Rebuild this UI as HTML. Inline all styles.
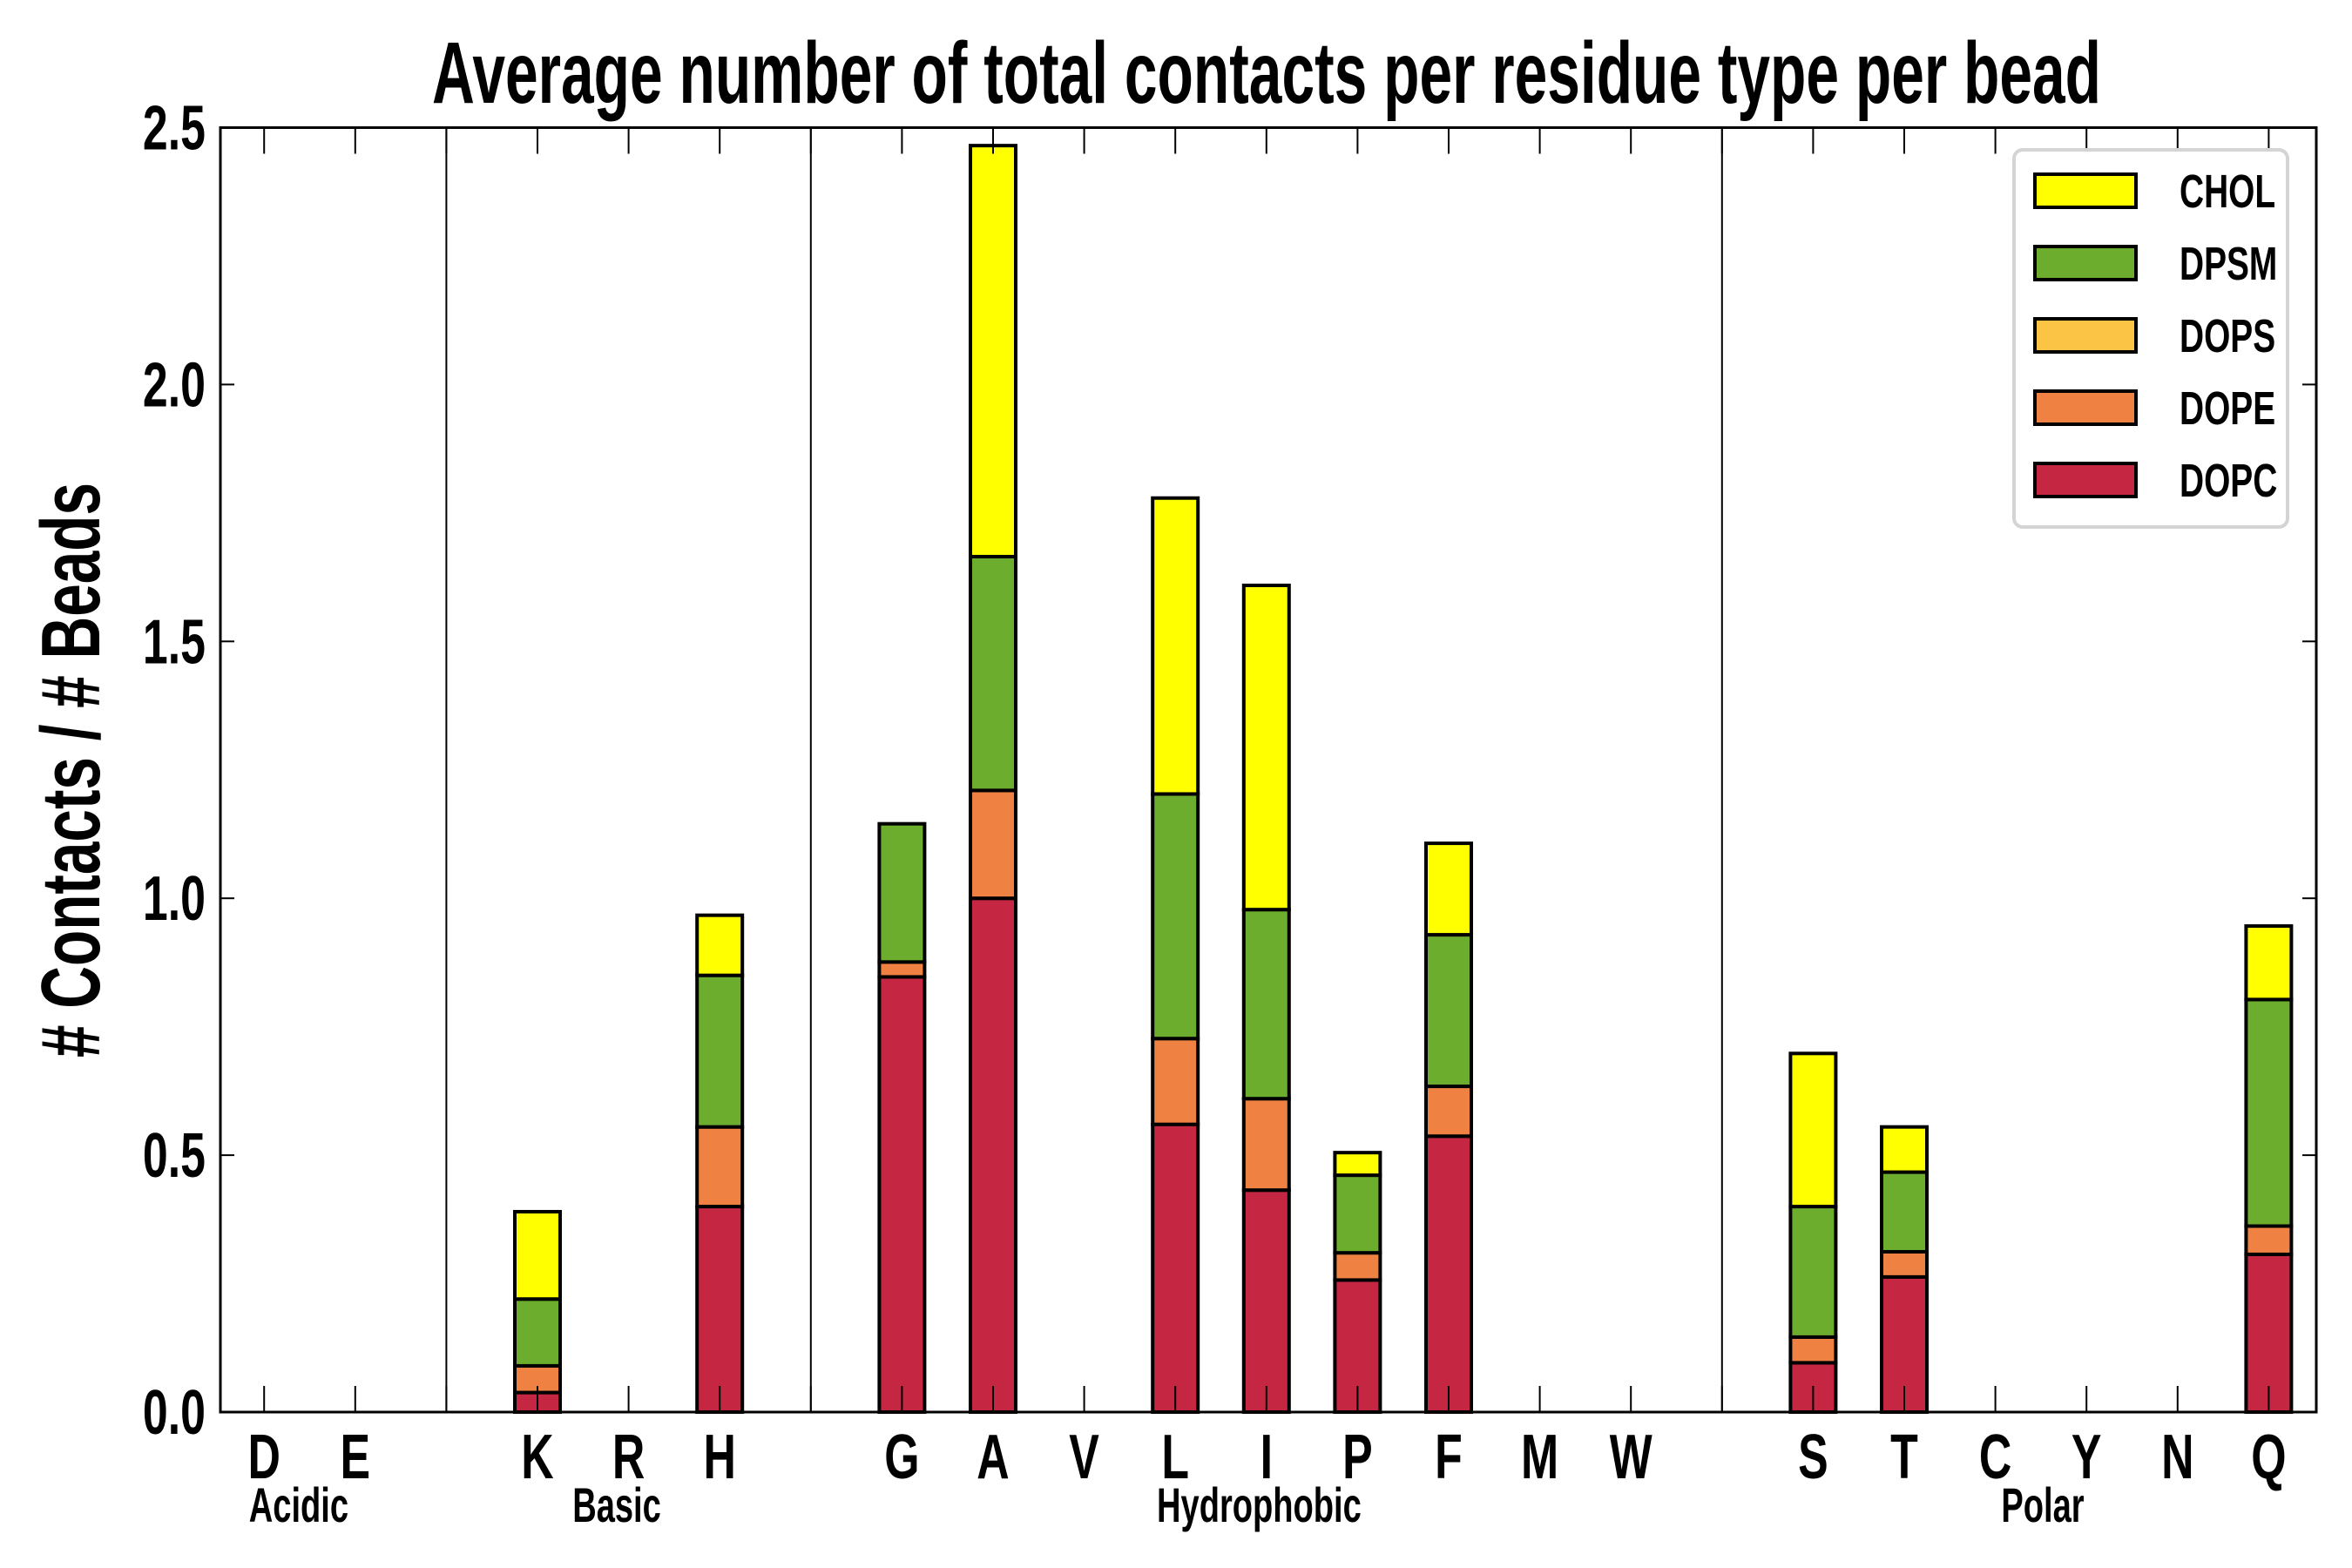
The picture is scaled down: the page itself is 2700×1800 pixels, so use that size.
<!DOCTYPE html>
<html><head><meta charset="utf-8"><style>
html,body{margin:0;padding:0;background:#fff;}
svg{display:block;font-family:"Liberation Sans",sans-serif;font-weight:bold;}
</style></head><body>
<svg id="chart" width="2700" height="1800" viewBox="0 0 2700 1800" xmlns="http://www.w3.org/2000/svg">
<rect width="2700" height="1800" fill="#fff"/>
<text x="1454" y="118" text-anchor="middle" font-size="100" textLength="1916" lengthAdjust="spacingAndGlyphs">Average number of total contacts per residue type per bead</text>
<text transform="translate(114,884) rotate(-90)" text-anchor="middle" font-size="96" textLength="660" lengthAdjust="spacingAndGlyphs"># Contacts / # Beads</text>
<g id="plot"></g>
</svg>
<script>
const categories = ["D","E","","K","R","H","","G","A","V","L","I","P","F","M","W","","S","T","C","Y","N","Q"];
const dopc = [0,0,0,0.038,0,0.40,0,0.847,1.0,0,0.56,0.432,0.257,0.537,0,0,0,0.096,0.263,0,0,0,0.307];
const dope = [0,0,0,0.052,0,0.155,0,0.029,0.21,0,0.167,0.178,0.053,0.097,0,0,0,0.05,0.049,0,0,0,0.055];
const dops = [0,0,0,0,0,0,0,0,0,0,0,0,0,0,0,0,0,0,0,0,0,0,0];
const dpsm = [0,0,0,0.13,0,0.295,0,0.269,0.455,0,0.476,0.368,0.151,0.295,0,0,0,0.254,0.155,0,0,0,0.441];
const chol = [0,0,0,0.17,0,0.117,0,0,0.80,0,0.576,0.631,0.044,0.178,0,0,0,0.298,0.088,0,0,0,0.143];
const seriesNames = ["DOPC","DOPE","DOPS","DPSM","CHOL"];
const seriesColors = ["#c52742","#ef8243","#fbc444","#6cad2d","#ffff00"];
const yTicks = [0,0.5,1.0,1.5,2.0,2.5];
const yTickLabels = ["0.0","0.5","1.0","1.5","2.0","2.5"];
const groupNames = ["Acidic","Basic","Hydrophobic","Polar"];
const groupLabelIndex = [0.38,3.87,10.92,19.52];
const separatorIndex = [2,6,16];

const NS="http://www.w3.org/2000/svg";
const L=253,R=2659,T=146.5,B=1621,YMAX=2.5;
const x0=303.2,step=104.6,bw=52;
const xs=i=>x0+step*i;
const ys=v=>B-(v/YMAX)*(B-T);
const g=document.getElementById('plot');
function mk(tag,attrs,parent){const e=document.createElementNS(NS,tag);for(const k in attrs)e.setAttribute(k,attrs[k]);(parent||g).appendChild(e);return e;}

separatorIndex.forEach(i=>{
  const e=mk('line',{x1:xs(i),x2:xs(i),y1:T,y2:B,stroke:'#000','stroke-width':2});
  
  
});
const all=[dopc,dope,dops,dpsm,chol];
categories.forEach((c,i)=>{
  let base=0;
  all.forEach((s,k)=>{
    const v=s[i];
    if(v>0||k===0){
      const r=mk('rect',{x:xs(i)-bw/2,y:ys(base+v),width:bw,height:Math.max(0,ys(base)-ys(base+v)),fill:seriesColors[k],stroke:'#000','stroke-width':v>0?4:3});
      
      
    }
    base+=v;
  });
});
categories.forEach((c,i)=>{
  const a=mk('line',{x1:xs(i),x2:xs(i),y1:B,y2:B-30,stroke:'#000','stroke-width':2});
  
  
  const b=mk('line',{x1:xs(i),x2:xs(i),y1:T,y2:T+30,stroke:'#000','stroke-width':2});
  
  
  if(c){
    const t=mk('text',{x:xs(i),y:B+76,'text-anchor':'middle','font-size':72,transform:`translate(${xs(i)},0) scale(0.72,1) translate(${-xs(i)},0)`});
    t.textContent=c;
    
    
  }
});
groupNames.forEach((n,j)=>{
  const x=xs(groupLabelIndex[j]);
  const t=mk('text',{x:x,y:B+126,'text-anchor':'middle','font-size':56,transform:`translate(${x},0) scale(0.68,1) translate(${-x},0)`});
  t.textContent=n;
  
  
});
yTicks.forEach((v,j)=>{
  const y=ys(v);
  const a=mk('line',{x1:L,x2:L+16,y1:y,y2:y,stroke:'#000','stroke-width':2});
  
  
  const b=mk('line',{x1:R-16,x2:R,y1:y,y2:y,stroke:'#000','stroke-width':2});
  
  
  const t=mk('text',{x:236,y:y+25,'text-anchor':'end','font-size':72,transform:`translate(236,0) scale(0.72,1) translate(-236,0)`});
  t.textContent=yTickLabels[j];
  
  
});
const fr=mk('rect',{x:L,y:T,width:R-L,height:B-T,fill:'none',stroke:'#000','stroke-width':3});


const lg=mk('g',{});


const lb=mk('rect',{x:2312,y:172,width:314,height:433,rx:10,fill:'#fff',stroke:'#d4d4d4','stroke-width':4},lg);


for(let k=4;k>=0;k--){
  const row=4-k;
  const cy=219+row*83;
  const s=mk('rect',{x:2336,y:cy-19,width:116,height:38,fill:seriesColors[k],stroke:'#000','stroke-width':4},lg);
  
  
  const t=mk('text',{x:2502,y:cy+19,'font-size':54,transform:`translate(2502,0) scale(0.72,1) translate(-2502,0)`},lg);
  t.textContent=seriesNames[k];
  
  
}
</script>
</body></html>
